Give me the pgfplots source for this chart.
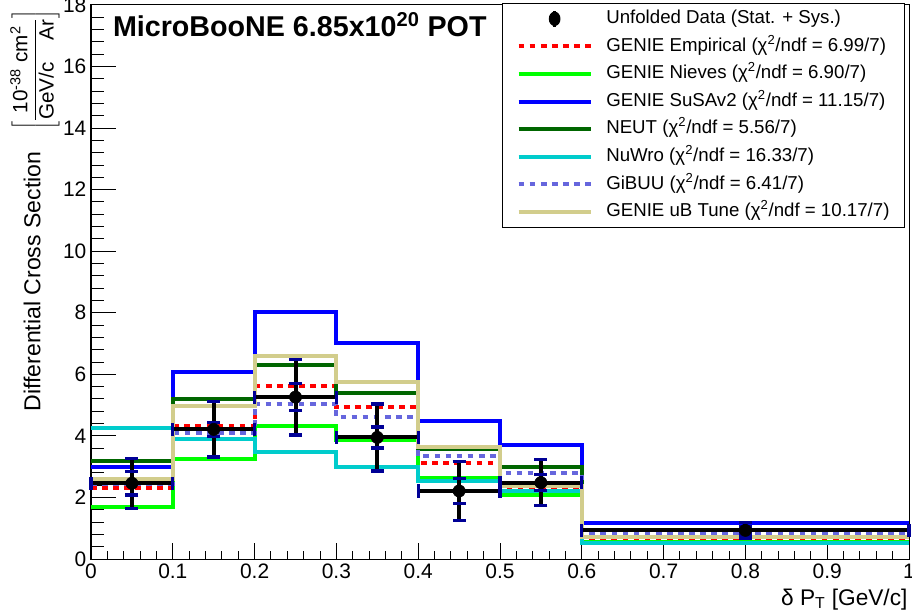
\documentclass[border=0pt]{standalone}
\usepackage{fontspec}
\setmainfont{Liberation Sans}
\usepackage{pgfplots}
\pgfplotsset{compat=1.18}
\definecolor{cred}{RGB}{255,0,0}
\definecolor{cgreen}{RGB}{0,255,0}
\definecolor{cblue}{RGB}{0,0,255}
\definecolor{cdkgreen}{RGB}{0,102,0}
\definecolor{ccyan}{RGB}{0,204,204}
\definecolor{cgibuu}{RGB}{102,102,221}
\definecolor{ckhaki}{RGB}{210,205,140}
\definecolor{cnavy}{RGB}{0,0,150}
\begin{document}
\begin{tikzpicture}
% x ticks axis
\begin{axis}[name=xax, at={(0,0)}, anchor=south west, scale only axis,
  width=613.5pt, height=415.5pt, xmin=0, xmax=1, ymin=0, ymax=18,
  xtick={0,0.1,0.2,0.3,0.4,0.5,0.6,0.7,0.8,0.9,1}, minor x tick num=4,
  ytick=\empty, xtick pos=bottom, tick align=inside,
  major tick length=12pt, minor tick length=6pt,
  axis line style={line width=0.75pt}, tick style={line width=0.75pt, black},
  /pgf/number format/assume math mode=true,
  tick label style={font=\fontsize{15.7}{18}\selectfont},
]
\end{axis}
\begin{axis}[name=main, at={(0,0)}, anchor=south west, scale only axis,
  width=613.5pt, height=415.5pt, xmin=0, xmax=1, ymin=0, ymax=18,
  xtick=\empty, ytick={0,2,4,6,8,10,12,14,16,18}, minor y tick num=4,
  ytick pos=left, tick align=inside,
  major tick length=18.75pt, minor tick length=9.75pt,
  axis line style={line width=0.75pt}, tick style={line width=0.75pt, black},
  /pgf/number format/assume math mode=true,
  tick label style={font=\fontsize{15.7}{18}\selectfont},
  clip=false,
  legend image code/.code={\draw[#1] (0pt,0pt) -- (54pt,0pt);},
  legend cell align=left,
  legend style={at={(rel axis cs:0.9951,1.0036)}, anchor=north east,
    draw=black, line width=0.75pt, fill=white,
    font=\fontsize{14}{16.8}\selectfont,
    inner xsep=10.25pt, inner ysep=3.5pt, row sep=4.7pt,
    nodes={inner sep=1pt, text height=10.5pt, text depth=3.5pt},
    /tikz/every odd column/.append style={column sep=9.25pt}},
]
\addlegendimage{legend image code/.code={\draw[black,line width=2.5pt] (27pt,-6pt)--(27pt,6pt); \fill[black] (27pt,0pt) ellipse (4pt and 5pt);}}
\addlegendentry{Unfolded Data (Stat. + Sys.)}

\addplot[const plot mark left, cred, line width=3pt, dash pattern=on 4.3pt off 4pt] coordinates {
(0,2.32) (0.1,4.32) (0.2,5.63) (0.3,4.93) (0.4,3.13) (0.5,2.31) (0.6,0.68) (1.0,0.68)};
\addlegendentry{GENIE Empirical (χ\textsuperscript{2}/ndf = 6.99/7)}

\addplot[const plot mark left, cgreen, line width=3pt] coordinates {
(0,1.70) (0.1,3.26) (0.2,4.32) (0.3,3.87) (0.4,2.64) (0.5,2.07) (0.6,0.55) (1.0,0.55)};
\addlegendentry{GENIE Nieves (χ\textsuperscript{2}/ndf = 6.90/7)}

\addplot[const plot mark left, cblue, line width=3pt] coordinates {
(0,3.00) (0.1,6.07) (0.2,8.03) (0.3,7.01) (0.4,4.49) (0.5,3.69) (0.6,1.16) (1.0,1.16)};
\addlegendentry{GENIE SuSAv2 (χ\textsuperscript{2}/ndf = 11.15/7)}

\addplot[const plot mark left, cdkgreen, line width=3pt] coordinates {
(0,3.18) (0.1,5.20) (0.2,6.30) (0.3,5.38) (0.4,3.56) (0.5,3.00) (0.6,0.72) (1.0,0.72)};
\addlegendentry{NEUT (χ\textsuperscript{2}/ndf = 5.56/7)}

\addplot[const plot mark left, ccyan, line width=3pt] coordinates {
(0,4.27) (0.1,3.91) (0.2,3.47) (0.3,2.98) (0.4,2.54) (0.5,2.20) (0.6,0.53) (1.0,0.53)};
\addlegendentry{NuWro (χ\textsuperscript{2}/ndf = 16.33/7)}

\addplot[const plot mark left, cgibuu, line width=3pt, dash pattern=on 4.3pt off 4pt] coordinates {
(0,2.45) (0.1,4.08) (0.2,5.05) (0.3,4.61) (0.4,3.35) (0.5,2.78) (0.6,0.83) (1.0,0.83)};
\addlegendentry{GiBUU (χ\textsuperscript{2}/ndf = 6.41/7)}

\addplot[const plot mark left, ckhaki, line width=3pt] coordinates {
(0,2.60) (0.1,4.98) (0.2,6.60) (0.3,5.76) (0.4,3.63) (0.5,2.37) (0.6,0.70) (1.0,0.70)};
\addlegendentry{GENIE uB Tune (χ\textsuperscript{2}/ndf = 10.17/7)}

% data: total errors
\addplot[forget plot, only marks, mark=none,
  error bars/.cd, x dir=both, x explicit, y dir=both, y explicit,
  error bar style={line width=3pt, black},
  error mark options={rotate=90, mark size=4.9pt, line width=2.5pt, cnavy}]
  coordinates {
  (0.05,2.46) +- (0.05,0.81)
  (0.15,4.21) +- (0.05,0.90)
  (0.25,5.26) +- (0.05,1.23)
  (0.35,3.95) +- (0.05,1.09)
  (0.45,2.21) +- (0.05,0.95)
  (0.55,2.48) +- (0.05,0.75)
  (0.80,0.93) +- (0.20,0.25)
};
% data: stat errors
\addplot[forget plot, only marks, mark=none,
  error bars/.cd, y dir=both, y explicit,
  error bar style={line width=3pt, black},
  error mark options={rotate=90, mark size=4.9pt, line width=2.5pt, cnavy}]
  coordinates {
  (0.05,2.46) +- (0,0.38)
  (0.15,4.21) +- (0,0.23)
  (0.25,5.26) +- (0,0.44)
  (0.35,3.95) +- (0,0.34)
  (0.45,2.21) +- (0,0.40)
  (0.55,2.48) +- (0,0.26)
  (0.80,0.93) +- (0,0.12)
};
\addplot[forget plot, only marks, mark=*, mark size=4.6pt, black] coordinates {
  (0.05,2.46) (0.15,4.21) (0.25,5.26) (0.35,3.95) (0.45,2.21) (0.55,2.48) (0.80,0.93)
};

\node[anchor=base west, font=\fontsize{21.5}{25}\selectfont\bfseries] at ([xshift=13pt, yshift=-24pt]rel axis cs:0,1) {MicroBooNE 6.85x10\textsuperscript{20} POT};
\end{axis}

\node[rotate=90, anchor=east, inner sep=0pt] at ([xshift=-42pt, yshift=-3pt]main.north west)
 {\fontsize{17.3}{20}\selectfont Differential Cross Section\hspace{16pt}\fontsize{15.5}{18}\selectfont$\displaystyle\left[\frac{\hbox to 71pt{10\textsuperscript{-38}\hfil cm\textsuperscript{2}}}{\hbox to 75pt{GeV/c\hfil Ar}}\right]$};
\node[anchor=base east, inner sep=0pt, font=\fontsize{17}{20}\selectfont] at ([xshift=-1pt, yshift=-34.5pt]main.south east) {δ P\textsubscript{T} [GeV/c]};

\pgfresetboundingbox
\path[use as bounding box] ([shift={(-68.25pt,-42.75pt)}]main.south west) rectangle ([shift={(2.25pt,3.75pt)}]main.north east);
\end{tikzpicture}
\end{document}
